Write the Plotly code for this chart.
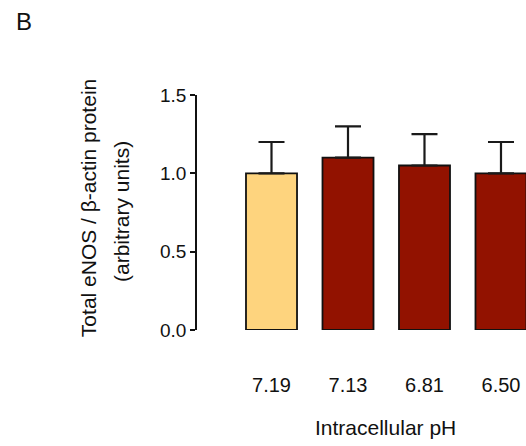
import plotly.graph_objects as go

categories = ["7.19", "7.13", "6.81", "6.50"]
values = [1.00, 1.10, 1.05, 1.00]
errors = [0.20, 0.20, 0.20, 0.20]
colors = ["#FED47E", "#921200", "#921200", "#921200"]
y_ticks = [0.0, 0.5, 1.0, 1.5]
y_ticklabels = ["0.0", "0.5", "1.0", "1.5"]

FONT = "Liberation Sans, Arial, sans-serif"

fig = go.Figure()
fig.add_trace(go.Bar(
    x=list(range(len(categories))),
    y=values,
    width=0.667,
    marker=dict(color=colors, line=dict(color="#111111", width=1.8)),
    error_y=dict(type="data", symmetric=False, array=errors,
                 arrayminus=[0] * len(errors), color="#1a1a1a",
                 thickness=2.2, width=13),
    showlegend=False,
))

fig.update_layout(
    width=526, height=446,
    margin=dict(l=197, r=0, t=95, b=116),
    paper_bgcolor="white", plot_bgcolor="white",
    font=dict(family=FONT, color="#111111"),
    xaxis=dict(
        range=[-0.974, 3.327],
        tickmode="array", tickvals=list(range(len(categories))),
        ticktext=categories,
        showline=False, showgrid=False, zeroline=False, ticks="",
        tickfont=dict(size=20, family=FONT),
        ticklabelstandoff=41,
    ),
    yaxis=dict(
        range=[0, 1.5],
        tickmode="array", tickvals=y_ticks, ticktext=y_ticklabels,
        showline=True, linecolor="#111111", linewidth=1.5,
        ticks="outside", ticklen=5, tickwidth=1.5, tickcolor="#111111",
        showgrid=False, zeroline=False,
        tickfont=dict(size=19, family=FONT),
    ),
    annotations=[
        dict(text="Intracellular pH",
             xref="paper", yref="paper", x=0.574, y=-0.417,
             xanchor="center", yanchor="middle", showarrow=False,
             font=dict(size=21, family=FONT, color="#111111")),
        dict(text="Total eNOS / β-actin protein", textangle=-90,
             xref="paper", yref="paper", x=-0.331, y=0.519,
             xanchor="center", yanchor="middle", showarrow=False,
             font=dict(size=21, family=FONT, color="#111111")),
        dict(text="(arbitrary units)", textangle=-90,
             xref="paper", yref="paper", x=-0.231, y=0.502,
             xanchor="center", yanchor="middle", showarrow=False,
             font=dict(size=21, family=FONT, color="#111111")),
        dict(text="B", xref="paper", yref="paper", x=-0.527, y=1.313,
             xanchor="center", yanchor="middle", showarrow=False,
             font=dict(size=24, family=FONT, color="#111111")),
    ],
)

fig.write_html("out.html", config={"displayModeBar": False},
               post_script="document.body.style.margin='0';")
